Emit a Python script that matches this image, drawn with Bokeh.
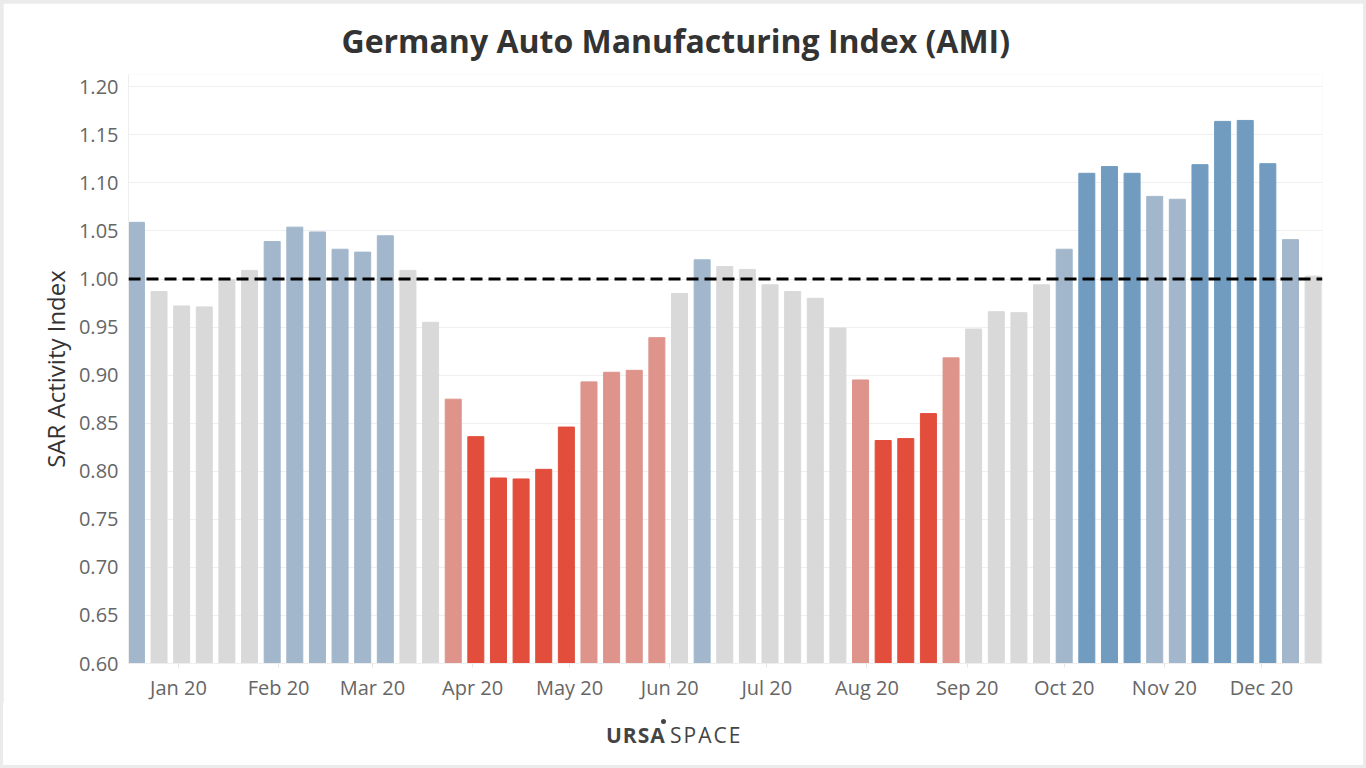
import pandas as pd
from bokeh.plotting import figure
from bokeh.models import (ColumnDataSource, Range1d, Span, Div, DatetimeTickFormatter,
                          MonthsTicker, FixedTicker, PrintfTickFormatter)
from bokeh.layouts import column
from bokeh.embed import file_html
from bokeh.resources import INLINE

# ---------------- data ----------------
first_week = "2019-12-19"
values = [1.059, 0.987, 0.972, 0.971, 0.999, 1.009, 1.039, 1.054, 1.049, 1.031,
          1.028, 1.045, 1.009, 0.955, 0.875, 0.836, 0.793, 0.792, 0.802, 0.846,
          0.893, 0.903, 0.905, 0.939, 0.985, 1.020, 1.013, 1.010, 0.994, 0.987,
          0.980, 0.949, 0.895, 0.832, 0.834, 0.860, 0.918, 0.948, 0.966, 0.965,
          0.994, 1.031, 1.110, 1.117, 1.110, 1.086, 1.083, 1.119, 1.164, 1.165,
          1.120, 1.041, 1.003]
# activity level per week: H high, L above normal, N normal, r below normal, R low
levels = ["L", "N", "N", "N", "N", "N", "L", "L", "L", "L",
          "L", "L", "N", "N", "r", "R", "R", "R", "R", "R",
          "r", "r", "r", "r", "N", "L", "N", "N", "N", "N",
          "N", "N", "r", "R", "R", "R", "r", "N", "N", "N",
          "N", "L", "H", "H", "H", "L", "L", "H", "H", "H",
          "H", "L", "N"]
level_colors = {"H": "#719cc0", "L": "#a2b7cb", "N": "#d9d9d9", "r": "#de938b", "R": "#e24d3c"}
y_ticks = [0.60, 0.65, 0.70, 0.75, 0.80, 0.85, 0.90, 0.95, 1.00, 1.05, 1.10, 1.15, 1.20]
baseline = 1.0

dates = pd.date_range(first_week, periods=len(values), freq="7D")
src = ColumnDataSource(dict(date=dates, value=values,
                            color=[level_colors[l] for l in levels]))

W, H = 1360, 700
p = figure(width=W, height=H, x_axis_type="datetime", output_backend="svg",
           toolbar_location=None,
           x_range=Range1d(pd.Timestamp("2019-12-16 13:20"), pd.Timestamp("2020-12-19 21:40")),
           y_range=Range1d(0.6, 1.2128),
           min_border_left=125, min_border_right=41, min_border_top=71, min_border_bottom=40)
p.background_fill_color = "white"
p.border_fill_color = "white"
p.outline_line_color = None

p.vbar(x="date", top="value", bottom=0.6, width=4.95 * 86400000, color="color", source=src)

p.add_layout(Span(location=baseline, dimension="width", line_color="black",
                  line_width=3, line_dash="12 6"))

# title
p.title.text = "Germany Auto Manufacturing Index (AMI)"
p.title.text_font = "Open Sans"
p.title.text_font_size = "32px"
p.title.text_font_style = "bold"
p.title.text_color = "#333333"
p.title.align = "left"
p.title.offset = 213
p.title.standoff = 26

# axes
p.xgrid.visible = False
p.ygrid.grid_line_color = "#efefef"
p.yaxis.ticker = FixedTicker(ticks=y_ticks)
p.yaxis.formatter = PrintfTickFormatter(format="%.2f")
p.yaxis.axis_label = "SAR Activity Index"
p.yaxis.axis_label_text_font = "Open Sans"
p.yaxis.axis_label_text_font_size = "24px"
p.yaxis.axis_label_text_font_style = "normal"
p.yaxis.axis_label_text_color = "#333333"
p.yaxis.axis_label_standoff = 4
p.yaxis.major_tick_line_color = None
p.yaxis.minor_tick_line_color = None
p.yaxis.axis_line_color = "#eeeeee"
p.yaxis.major_label_standoff = 4

p.xaxis.ticker = MonthsTicker(months=list(range(12)))
p.xaxis.formatter = DatetimeTickFormatter(days="%b %y", months="%b %y", years="%b %y")
p.xaxis.axis_line_color = "#eeeeee"
p.xaxis.major_tick_line_color = "#e4e4e4"
p.xaxis.major_tick_out = 4
p.xaxis.major_tick_in = 0
p.xaxis.minor_tick_line_color = None
p.xaxis.major_label_standoff = 6

for ax in (p.xaxis, p.yaxis):
    ax.major_label_text_font = "Open Sans"
    ax.major_label_text_font_size = "20px"
    ax.major_label_text_color = "#666666"

# logo
logo_html = (
    '<div style="position:relative;width:1360px;height:62px;background:#ffffff;'
    'font-family:\'Open Sans\';color:#444444;">'
    '<span style="position:absolute;left:603px;top:22px;font-size:21px;line-height:21px;'
    'font-weight:bold;letter-spacing:1px;">URSA</span>'
    '<span style="position:absolute;left:658px;top:16px;width:5px;height:5px;border-radius:50%;'
    'background:#444444;"></span>'
    '<span style="position:absolute;left:667px;top:22px;font-size:21px;line-height:21px;'
    'letter-spacing:2px;">SPACE</span>'
    '</div>'
)
logo = Div(text=logo_html, width=W, height=62, margin=0,
           styles={"background-color": "#ffffff"})

layout = column(p, logo, spacing=0,
                styles={"padding": "3px", "background-color": "#ebebeb"})
open("out.html", "w").write(file_html(layout, INLINE))
